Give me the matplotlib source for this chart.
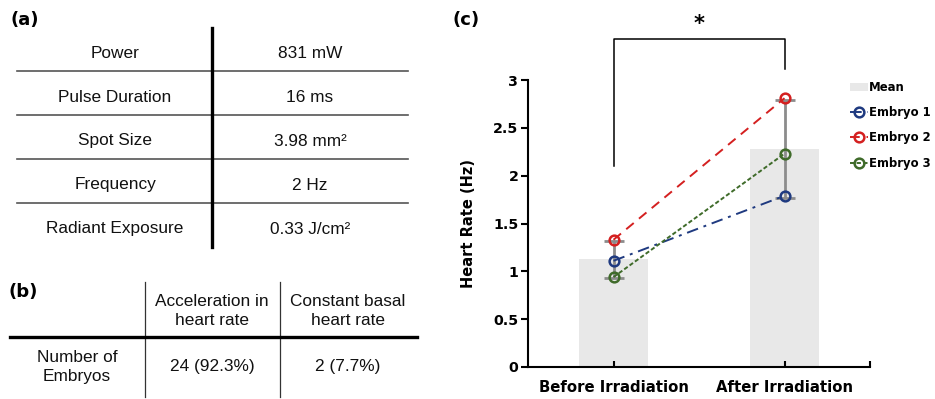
import numpy as np
import matplotlib.pyplot as plt

# (a) laser parameters
param_names = ["Power", "Pulse Duration", "Spot Size", "Frequency", "Radiant Exposure"]
param_values = ["831 mW", "16 ms", "3.98 mm²", "2 Hz", "0.33 J/cm²"]

# (b) response counts
resp_headers = ["Acceleration in\nheart rate", "Constant basal\nheart rate"]
resp_row_label = "Number of\nEmbryos"
resp_values = ["24 (92.3%)", "2 (7.7%)"]

# (c) heart rate per embryo
conditions = ["Before Irradiation", "After Irradiation"]
embryo_names = ["Embryo 1", "Embryo 2", "Embryo 3"]
embryo1 = [1.11, 1.79]
embryo2 = [1.33, 2.81]
embryo3 = [0.94, 2.23]

embryo_colors = ["#1f3a80", "#d42020", "#3f6b2a"]
embryo_styles = [(0, (6, 3, 1.5, 3)), (0, (5, 3.5)), (0, (2.2, 1.2))]

all_embryos = np.array([embryo1, embryo2, embryo3])
mean_hr = all_embryos.mean(axis=0)
sd_hr = all_embryos.std(axis=0, ddof=1)

BOLD = "DejaVu Sans"

fig = plt.figure(figsize=(9.35, 3.99), dpi=100)

# overlay in pixel coords for the two tables
ov = fig.add_axes([0, 0, 1, 1])
ov.set_xlim(0, 935)
ov.set_ylim(399, 0)
ov.axis("off")

tfont = dict(family="Liberation Sans", fontsize=12.4, ha="center", va="center", color="#111111")
lab_font = dict(family=BOLD, fontsize=13, fontweight="bold", va="center", ha="left")

# table (a)
ov.text(10, 20, "(a)", **lab_font)
row0, row_h = 53, 44
for i, (name, val) in enumerate(zip(param_names, param_values)):
    y = row0 + i * row_h
    ov.text(115, y, name, **tfont)
    ov.text(310, y, val, **tfont)
    if i < len(param_names) - 1:
        ov.plot([17, 408], [y + 18, y + 18], color="#555555", lw=1.2)
ov.plot([212, 212], [28, 247], color="black", lw=2.4)

# table (b)
ov.text(8, 292, "(b)", **lab_font)
col_x = [77, 212, 348]
for cx, h in zip(col_x[1:], resp_headers):
    ov.text(cx, 311, h, linespacing=1.4, **tfont)
ov.text(col_x[0], 367, resp_row_label, linespacing=1.35, **tfont)
for cx, v in zip(col_x[1:], resp_values):
    ov.text(cx, 367, v, **tfont)
for vx in [145, 280]:
    ov.plot([vx, vx], [282, 397], color="#333333", lw=0.9)
ov.plot([10, 417], [337, 337], color="black", lw=2.4)

ov.text(453, 20, "(c)", **lab_font)

# panel (c)
ax = fig.add_axes([528 / 935, 1 - 367 / 399, 342 / 935, 287 / 399])
x = np.arange(len(conditions))
bars = ax.bar(x, mean_hr, width=0.4, color="#e8e8e8", label="Mean", zorder=1)
ax.errorbar(x, mean_hr, yerr=sd_hr, fmt="none", ecolor="#8c8c8c", elinewidth=2,
            capsize=7, capthick=2, zorder=2)
handles = [bars]
for vals, name, c, ls in zip(all_embryos, embryo_names, embryo_colors, embryo_styles):
    ln, = ax.plot(x, vals, linestyle=ls, color=c, lw=1.4, marker="o", markersize=7,
                  markerfacecolor="none", markeredgewidth=1.8, label=name, zorder=3)
    handles.append(ln)

ax.set_xlim(-0.5, 1.5)
ax.set_ylim(0, 3)
ax.set_yticks([0, 0.5, 1, 1.5, 2, 2.5, 3])
ax.set_yticklabels(["0", "0.5", "1", "1.5", "2", "2.5", "3"])
ax.set_xticks([0, 1, 1.5])
ax.set_xticklabels(conditions + [""])
ax.tick_params(axis="x", direction="in", length=4, width=1.5, pad=9)
ax.tick_params(axis="y", direction="out", length=5, width=1.5, pad=2)
for lbl in ax.get_xticklabels() + ax.get_yticklabels():
    lbl.set_fontfamily(BOLD)
    lbl.set_fontweight("bold")
for lbl in ax.get_xticklabels():
    lbl.set_fontsize(10.7)
for lbl in ax.get_yticklabels():
    lbl.set_fontsize(10.3)
ax.spines["top"].set_visible(False)
ax.spines["right"].set_visible(False)
ax.spines["left"].set_linewidth(1.5)
ax.spines["bottom"].set_linewidth(1.5)
ax.set_ylabel("Heart Rate (Hz)", family=BOLD, fontweight="bold", fontsize=10.5, labelpad=12)

# significance bracket
ax.plot([0, 0, 1, 1], [2.10, 3.43, 3.43, 3.11], color="black", lw=1.1, clip_on=False)
ax.text(0.5, 3.59, "*", ha="center", va="center", fontsize=15, fontweight="bold",
        family=BOLD, clip_on=False)

leg = ax.legend(handles, ["Mean"] + embryo_names, loc="upper left",
                bbox_to_anchor=(850 / 935, 1 - 81 / 399),
                bbox_transform=fig.transFigure, frameon=False, handlelength=1.5,
                handletextpad=0.15, labelspacing=1.05, borderaxespad=0, borderpad=0,
                prop=dict(family=BOLD, weight="bold", size=8.4))

fig.savefig("out.png", dpi=100)
